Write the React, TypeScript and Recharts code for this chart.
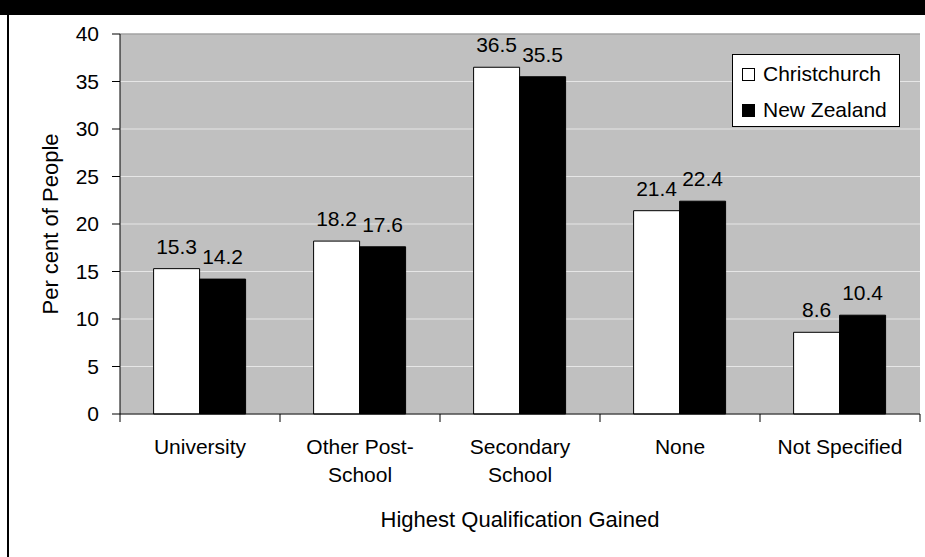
import { BarChart, Bar, XAxis, YAxis, CartesianGrid, Legend, LabelList, ReferenceLine } from 'recharts';

const categories = ['University', 'Other Post-School', 'Secondary School', 'None', 'Not Specified'];
const tickLines = [['University'], ['Other Post-', 'School'], ['Secondary', 'School'], ['None'], ['Not Specified']];
const christchurch = [15.3, 18.2, 36.5, 21.4, 8.6];
const newZealand = [14.2, 17.6, 35.5, 22.4, 10.4];
const yTicks = [0, 5, 10, 15, 20, 25, 30, 35, 40];

const FONT = '"Liberation Sans", Arial, sans-serif';
const WIDTH = 925;
const HEIGHT = 557;
const PLOT_LEFT = 120;
const PLOT_RIGHT = 920;
const BAND = (PLOT_RIGHT - PLOT_LEFT) / categories.length;

const data = categories.map((name, i) => ({
  name,
  christchurch: christchurch[i],
  newZealand: newZealand[i]
}));

const CategoryTick = ({ x, y, index }: any) => {
  const lines = tickLines[index] || [];
  const last = index === categories.length - 1;
  return (
    <g>
      <line x1={x - BAND / 2} x2={x - BAND / 2} y1={y} y2={y + 8} stroke="#000" />
      {last && <line x1={x + BAND / 2} x2={x + BAND / 2} y1={y} y2={y + 8} stroke="#000" />}
      <text x={x} y={y} textAnchor="middle" fontSize={21} fill="#000" fontFamily={FONT}>
        {lines.map((l, i) => (
          <tspan key={i} x={x} dy={i === 0 ? 40 : 28}>{l}</tspan>
        ))}
      </text>
    </g>
  );
};

const LegendBox = ({ payload }: any) => (
  <div
    style={{
      border: '1px solid #000',
      background: '#fff',
      width: 168,
      height: 73,
      boxSizing: 'border-box',
      paddingTop: 1,
      paddingLeft: 9,
      fontFamily: FONT
    }}
  >
    {(payload || []).map((item: any) => (
      <div key={item.value} style={{ display: 'flex', alignItems: 'center', height: 36 }}>
        <span
          style={{
            display: 'inline-block',
            width: 13,
            height: 13,
            boxSizing: 'border-box',
            border: '1px solid #000',
            background: item.color
          }}
        />
        <span style={{ marginLeft: 8, fontSize: 21, color: '#000' }}>{item.value}</span>
      </div>
    ))}
  </div>
);

export default function App() {
  return (
    <div style={{ position: 'fixed', left: 0, top: 0, width: WIDTH, height: HEIGHT, background: '#fff', fontFamily: FONT, overflow: 'hidden' }}>
      <BarChart
        width={WIDTH}
        height={HEIGHT}
        data={data}
        margin={{ top: 34, right: WIDTH - PLOT_RIGHT, bottom: 0, left: 0 }}
        barCategoryGap="21%"
        barGap={0}
      >
        <CartesianGrid vertical={false} fill="#c0c0c0" stroke="#e6e6e6" horizontalValues={yTicks} />
        <XAxis
          dataKey="name"
          interval={0}
          height={HEIGHT - 34 - 380}
          axisLine={{ stroke: '#000' }}
          tickLine={false}
          tickSize={0}
          tickMargin={0}
          tick={<CategoryTick />}
          label={{ value: 'Highest Qualification Gained', position: 'insideBottom', offset: 30, fontSize: 22, fill: '#000', fontFamily: FONT }}
        />
        <YAxis
          domain={[0, 40]}
          ticks={yTicks}
          width={PLOT_LEFT}
          axisLine={{ stroke: '#000' }}
          tickLine={{ stroke: '#000' }}
          tickSize={8}
          tickMargin={13}
          tick={{ fontSize: 21, fill: '#000', fontFamily: FONT }}
          label={{ value: 'Per cent of People', angle: -90, position: 'center', dx: -10, fontSize: 22, fill: '#000', fontFamily: FONT }}
        />
        <YAxis
          yAxisId="right"
          orientation="right"
          domain={[0, 40]}
          width={0}
          tick={false}
          tickLine={false}
          axisLine={{ stroke: '#808080' }}
        />
        <ReferenceLine y={40} stroke="#808080" />
        <Legend
          layout="vertical"
          align="center"
          verticalAlign="middle"
          content={<LegendBox />}
          wrapperStyle={{ left: 732, top: 54, width: 168, height: 73 }}
        />
        <Bar dataKey="christchurch" name="Christchurch" fill="#ffffff" stroke="#000" strokeWidth={1} isAnimationActive={false}>
          <LabelList dataKey="christchurch" position="top" offset={15} fontSize={21} fill="#000" fontFamily={FONT} formatter={(v: any) => Number(v).toFixed(1)} />
        </Bar>
        <Bar dataKey="newZealand" name="New Zealand" fill="#000000" stroke="#000" strokeWidth={1} isAnimationActive={false}>
          <LabelList dataKey="newZealand" position="top" offset={15} fontSize={21} fill="#000" fontFamily={FONT} formatter={(v: any) => Number(v).toFixed(1)} />
        </Bar>
      </BarChart>
      <div style={{ position: 'absolute', left: 0, top: 0, width: WIDTH, height: 15, background: '#000' }} />
      <div style={{ position: 'absolute', left: 7, top: 0, width: 2, height: HEIGHT, background: '#000' }} />
    </div>
  );
}
